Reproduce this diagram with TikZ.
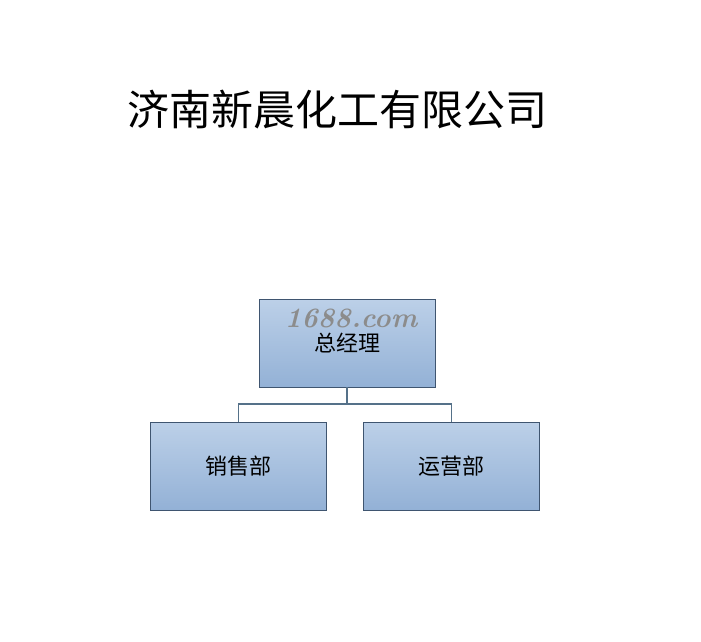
\documentclass[tikz,border=0pt]{standalone}
\usepackage{fontspec,tikz}
\newfontfamily\cjk{Noto Sans CJK SC}
\definecolor{boxtop}{HTML}{BCD0E8}
\definecolor{boxbot}{HTML}{93B1D6}
\definecolor{boxline}{HTML}{3F5570}
\definecolor{linkline}{HTML}{557189}
\tikzstyle{dept}=[rectangle,draw=boxline,line width=0.9pt,top color=boxtop,bottom color=boxbot,minimum width=176pt,minimum height=88pt,inner sep=0pt,font=\cjk\fontsize{22}{22}\selectfont]
\tikzstyle{link}=[draw=linkline,line width=1.6pt]
\begin{document}
\begin{tikzpicture}[x=1pt,y=1pt]
\useasboundingbox (0,0) rectangle (701,-642);
\node[font=\cjk\fontsize{42}{42}\selectfont] (title) at (337,-110) {济南新晨化工有限公司};
\node[dept] (gm) at (347,-343) {总经理};
\node[dept] (sales) at (238.5,-466) {销售部};
\node[dept] (ops) at (451.5,-466) {运营部};
\node[inner sep=0pt,text=black!45,font=\bfseries\itshape\fontsize{28}{28}\selectfont] (mark) at (351,-318) {1688.com};
\coordinate (J) at (347,-404);
\draw[link](gm.south)--(J);
\draw[link](J)-|(sales.north);\draw[link](J)-|(ops.north);
\end{tikzpicture}
\end{document}
